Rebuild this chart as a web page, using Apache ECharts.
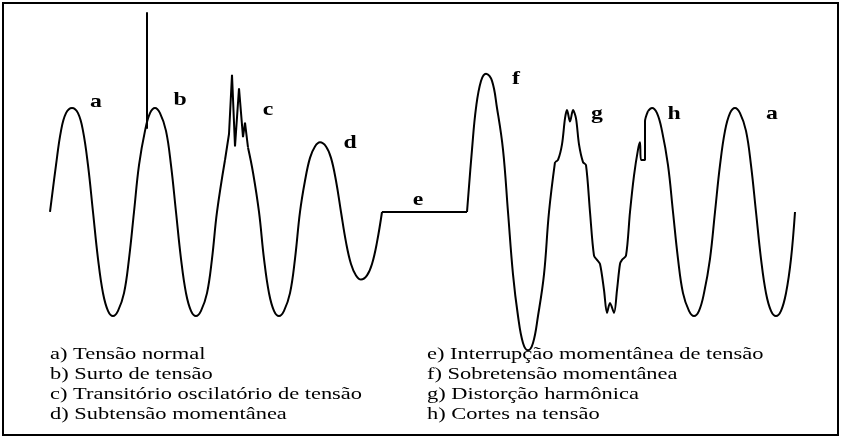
<!DOCTYPE html>
<html>
<head>
<meta charset="utf-8">
<script src="https://cdn.jsdelivr.net/npm/echarts@6/dist/echarts.min.js"></script>
<style>html,body{margin:0;padding:0;background:#fff}#main{width:842px;height:440px}</style>
</head>
<body>
<div id="main"></div>
<script>
// wave samples: [x position, amplitude in per-unit]
var waveSmooth = [
  [50,0],[56,0.45],[61,0.78],[66,0.95],[72,1],[78,0.95],[83,0.78],[88,0.45],[93,0],
  [98,-0.45],[103,-0.78],[108,-0.95],[113,-1],[118,-0.95],[124,-0.78],[129,-0.45],
  [134,0],[139,0.45],[145,0.78],[150,0.95],[155,1],[160,0.95],[166,0.78],[171,0.45],
  [176,0],[181,-0.45],[186,-0.78],[191,-0.95],[196,-1],[201,-0.95],[207,-0.78],[212,-0.45],
  [217,0],[225,0.5]
];
var waveC = [
  [225,0.5],[229,0.75],[232,1.32],[235,0.63],[239,1.19],[243,0.72],[245,0.86],[248,0.62]
];
var waveD = [
  [248,0.62],[253,0.38],[259,0],[264,-0.45],[269,-0.78],[274,-0.95],[279,-1],[284,-0.95],
  [290,-0.78],[295,-0.45],[300,0],[305,0.3],[310,0.52],[315,0.63],[320,0.67],[326,0.63],
  [331,0.52],[336,0.3],[341,0],[346,-0.29],[351,-0.5],[356,-0.61],[361,-0.65],[367,-0.61],
  [372,-0.5],[377,-0.29],[382,0]
];
var waveE = [[382,0],[467,0]];
var waveF = [
  [467,0],[472,0.6],[476,1.0],[481,1.26],[486,1.33],[492,1.26],[497,1.0],[503,0.6],
  [508,0],[513,-0.6],[518,-1.0],[523,-1.26],[528,-1.33],[533,-1.26],[538,-1.0],[544,-0.6],
  [549,0],[555,0.48]
];
var waveG = [
  [555,0.48],[558,0.5],[562,0.65],[565,0.9],[567,0.98],[570,0.87],[573,0.98],[576,0.9],
  [579,0.65],[583,0.48],[586,0.45],[590,0],[594,-0.42],[597,-0.46],[600,-0.5],[604,-0.75],
  [607,-0.97],[610,-0.875],[614,-0.97],[617,-0.75],[620,-0.5],[622,-0.46],[626,-0.42],
  [630,0],[634,0.35],[638,0.6],[640,0.67],[641,0.5],[645,0.5],[645,0.87],[648,0.97]
];
var waveH = [
  [648,0.97],[652,1],[657,0.95],[662,0.78],[668,0.45],[673,0],[678,-0.45],[683,-0.78],
  [689,-0.95],[694,-1],[699,-0.95],[704,-0.78],[710,-0.45],[715,0],[720,0.45],[725,0.78],
  [730,0.95],[735,1],[740,0.95],[746,0.78],[751,0.45],[756,0],[761,-0.45],[766,-0.78],
  [771,-0.95],[776,-1],[781,-0.95],[786,-0.78],[791,-0.45],[795,0]
];
var spikeB = [[147,0.8],[147,1.92]];
var waveLetters = [['a',96,102],['b',180,100],['c',268,110],['d',350,143],['e',418,200],
  ['f',516,79],['g',597,114],['h',674,114],['a',772,114]];
var legendLeft = ['a) Tensão normal','b) Surto de tensão','c) Transitório oscilatório de tensão','d) Subtensão momentânea'];
var legendRight = ['e) Interrupção momentânea de tensão','f) Sobretensão momentânea','g) Distorção harmônica','h) Cortes na tensão'];

var myChart = echarts.init(document.getElementById('main'));
var lineStyle = {color:'#000', width:2};
function wave(data, smooth){
  return {type:'line', data:data, smooth:smooth, showSymbol:false, symbol:'none',
    lineStyle:lineStyle, animation:false, silent:true};
}
var graphics = [{type:'rect', shape:{x:3,y:3,width:835,height:432},
  style:{fill:null, stroke:'#000', lineWidth:2}}];
waveLetters.forEach(function(l){
  graphics.push({type:'text', x:l[1], y:l[2], scaleX:1.25, style:{text:l[0], fill:'#000',
    font:'bold 19px "Liberation Serif", serif', textAlign:'center', textVerticalAlign:'middle'}});
});
legendLeft.forEach(function(t,i){
  graphics.push({type:'text', x:50, y:355+i*20, scaleX:1.32, style:{text:t, fill:'#000',
    font:'17px "Liberation Serif", serif', textVerticalAlign:'middle'}});
});
legendRight.forEach(function(t,i){
  graphics.push({type:'text', x:427, y:355+i*20, scaleX:1.32, style:{text:t, fill:'#000',
    font:'17px "Liberation Serif", serif', textVerticalAlign:'middle'}});
});
var option = {
  grid:{left:0, right:0, top:0, bottom:0},
  xAxis:{type:'value', min:0, max:842, show:false},
  yAxis:{type:'value', min:-2.192, max:2.038, show:false},
  series:[
    wave(waveSmooth,0.4), wave(waveC,false), wave(waveD,0.4), wave(waveE,false),
    wave(waveF,0.4), wave(waveG,0.3), wave(waveH,0.4), wave(spikeB,false)
  ],
  graphic:graphics
};
myChart.setOption(option, true);
</script>
</body>
</html>
